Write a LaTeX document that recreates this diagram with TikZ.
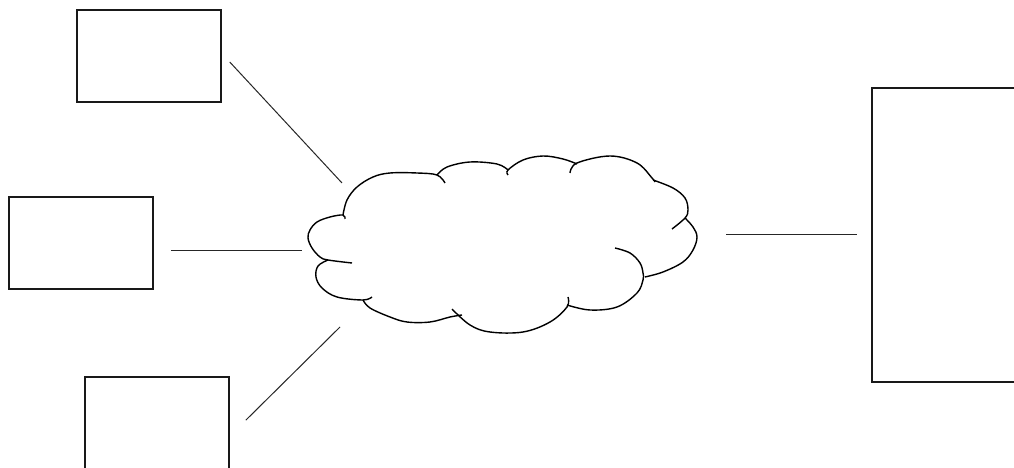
\documentclass[tikz,border=0pt]{standalone}
\begin{document}
\begin{tikzpicture}[x=1pt,y=1pt,
  boxnode/.style={draw=black!90,line width=1.5pt,inner sep=0pt,minimum width=144pt},
  conn/.style={draw=black!85,line width=1pt},
  lobe/.style={draw=black,line width=1.4pt,smooth,tension=0.6}]
\clip (0,0) rectangle (1014,468);
\fill[white] (0,0) rectangle (1014,468);
% boxes
\node[boxnode,minimum height=92pt] (b1) at (149,412) {};
\node[boxnode,minimum height=92pt] (b2) at (81,225) {};
\node[boxnode,minimum height=101pt] (b3) at (157,40.5) {};
\node[boxnode,minimum height=294pt] (b4) at (944,233) {};
% cloud
\draw[lobe] plot coordinates {(345,249) (343,253) (330,251) (317,246) (310,238) (308,230) (312,220) (320,211) (328,208) (352,205)};
\draw[lobe] plot coordinates {(328,208) (318,202) (316,191) (322,180) (337,171) (363,168) (372,171)};
\draw[lobe] plot coordinates {(363,168) (370,160) (390,151) (407,146) (430,146) (450,151) (462,153)};
\draw[lobe] plot coordinates {(452,159) (470,143) (490,136) (523,136) (550,146) (567,161) (568,171)};
\draw[lobe] plot coordinates {(567,163) (590,158) (617,161) (637,175) (643,188) (643,195) (640,205) (630,215) (615,220)};
\draw[lobe] plot coordinates {(645,191) (663,196) (683,206) (693,218) (697,231) (693,241) (685,250)};
\draw[lobe] plot coordinates {(653,288) (673,280) (685,270) (688,258) (685,250) (672,239)};
\draw[lobe] plot coordinates {(570,295) (577,305) (610,312) (637,305) (652,290) (655,286)};
\draw[lobe] plot coordinates {(508,293) (508,298) (523,308) (543,312) (563,309) (577,304)};
\draw[lobe] plot coordinates {(437,293) (447,301) (470,306) (497,304) (508,298)};
\draw[lobe] plot coordinates {(343,253) (347,268) (357,281) (373,291) (390,295) (417,295) (437,293) (445,285)};
% connector ends
\coordinate (c1) at (342,285);
\coordinate (c2) at (302,217);
\coordinate (c3) at (340,141);
\coordinate (c4) at (726,233);
\draw[conn] ([shift={(8,-6)}]b1.east) -- (c1);
\draw[conn] ([shift={(17,-8)}]b2.east) -- (c2);
\draw[conn] ([shift={(16,-44)}]b3.north east) -- (c3);
\draw[conn] (c4) -- ([xshift=-14]b4.west);
\end{tikzpicture}
\end{document}
